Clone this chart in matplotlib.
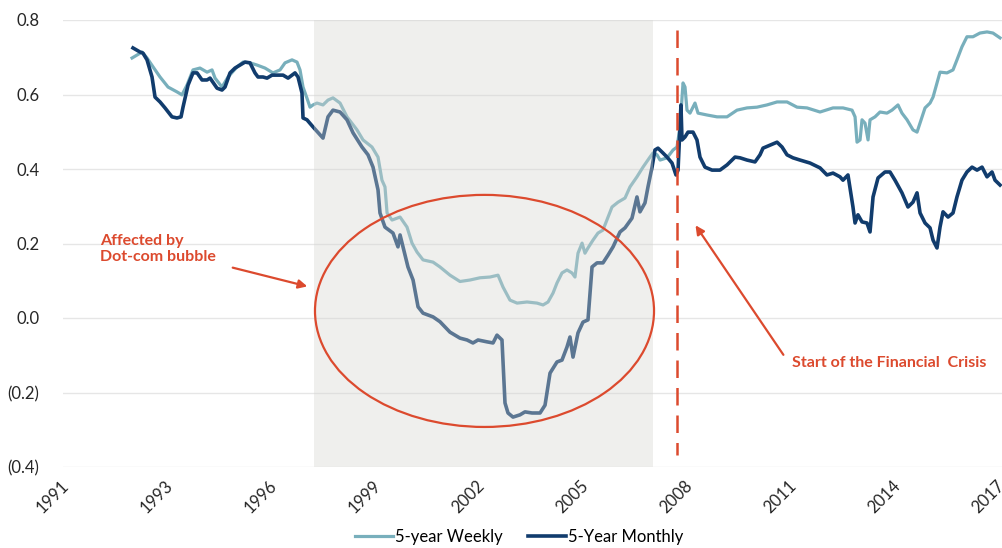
import numpy as np
import matplotlib.pyplot as plt
from matplotlib.patches import Rectangle, Ellipse
from matplotlib.ticker import FuncFormatter

plt.rcParams['font.family'] = ['Lato', 'DejaVu Sans']

# category axis: one position per labelled period
tick_labels = ['1991', '1993', '1996', '1999', '2002', '2005', '2008', '2011', '2014', '2017']

# 5-year monthly correlation (x in label positions)
monthly_x = [0.644, 0.712, 0.740, 0.779, 0.827, 0.856, 0.904, 0.952, 1.019, 1.067, 1.106, 1.125,
             1.173, 1.221, 1.260, 1.308, 1.356, 1.385, 1.452, 1.500, 1.529, 1.577, 1.625, 1.673,
             1.721, 1.769, 1.817, 1.846, 1.894, 1.933, 1.981, 2.029, 2.087, 2.135, 2.202, 2.231,
             2.269, 2.279, 2.317, 2.375, 2.471, 2.519, 2.567, 2.635, 2.702, 2.760, 2.846, 2.904,
             2.952, 3.000, 3.019, 3.067, 3.144, 3.192, 3.212, 3.240, 3.288, 3.337, 3.385, 3.433,
             3.529, 3.596, 3.692, 3.788, 3.856, 3.913, 3.962, 4.048, 4.106, 4.144, 4.192, 4.221,
             4.250, 4.298, 4.365, 4.413, 4.481, 4.558, 4.606, 4.654, 4.721, 4.769, 4.817, 4.846,
             4.875, 4.923, 4.971, 5.019, 5.058, 5.106, 5.163, 5.212, 5.260, 5.327, 5.375, 5.442,
             5.490, 5.519, 5.567, 5.596, 5.635, 5.663, 5.692, 5.740, 5.779, 5.827, 5.865, 5.885,
             5.913, 5.923, 5.952, 5.981, 6.029, 6.067, 6.096, 6.144, 6.212, 6.288, 6.356, 6.433,
             6.481, 6.548, 6.625, 6.673, 6.702, 6.769, 6.837, 6.885, 6.933, 6.990, 7.058, 7.154,
             7.250, 7.317, 7.375, 7.442, 7.471, 7.519, 7.567, 7.587, 7.615, 7.654, 7.702, 7.731,
             7.760, 7.808, 7.875, 7.923, 7.971, 8.038, 8.096, 8.144, 8.183, 8.212, 8.260, 8.308,
             8.337, 8.375, 8.404, 8.433, 8.481, 8.529, 8.567, 8.615, 8.663, 8.712, 8.760, 8.808,
             8.856, 8.904, 8.933, 8.981]
monthly_y = [0.725, 0.714, 0.711, 0.693, 0.647, 0.593, 0.580, 0.564, 0.540, 0.537, 0.540, 0.566,
             0.625, 0.658, 0.658, 0.639, 0.639, 0.644, 0.617, 0.612, 0.620, 0.658, 0.671, 0.679,
             0.687, 0.685, 0.658, 0.647, 0.647, 0.644, 0.652, 0.652, 0.652, 0.644, 0.658, 0.647,
             0.604, 0.537, 0.532, 0.513, 0.483, 0.540, 0.558, 0.553, 0.532, 0.497, 0.459, 0.438,
             0.405, 0.344, 0.282, 0.244, 0.228, 0.191, 0.223, 0.191, 0.137, 0.102, 0.030, 0.013,
             0.003, -0.010, -0.038, -0.054, -0.059, -0.067, -0.059, -0.064, -0.067, -0.046, -0.059, -0.228,
             -0.255, -0.266, -0.260, -0.252, -0.255, -0.255, -0.234, -0.148, -0.118, -0.113, -0.078, -0.051,
             -0.105, -0.040, -0.011, -0.005, 0.137, 0.148, 0.148, 0.169, 0.191, 0.231, 0.242, 0.268,
             0.325, 0.285, 0.309, 0.352, 0.405, 0.451, 0.456, 0.443, 0.432, 0.416, 0.384, 0.397,
             0.572, 0.478, 0.486, 0.499, 0.499, 0.478, 0.432, 0.405, 0.397, 0.397, 0.411, 0.432,
             0.430, 0.424, 0.419, 0.438, 0.456, 0.464, 0.472, 0.459, 0.438, 0.430, 0.424, 0.416,
             0.403, 0.384, 0.389, 0.379, 0.370, 0.384, 0.298, 0.255, 0.277, 0.258, 0.255, 0.231,
             0.325, 0.376, 0.392, 0.392, 0.370, 0.336, 0.298, 0.311, 0.336, 0.282, 0.255, 0.242,
             0.209, 0.188, 0.244, 0.285, 0.271, 0.282, 0.325, 0.370, 0.392, 0.405, 0.397, 0.405,
             0.379, 0.392, 0.370, 0.357]

# 5-year weekly correlation
weekly_x = [0.635, 0.683, 0.731, 0.779, 0.837, 0.904, 0.981, 1.067, 1.115, 1.163, 1.221, 1.288,
            1.356, 1.404, 1.433, 1.500, 1.558, 1.644, 1.702, 1.769, 1.837, 1.913, 1.990, 2.058,
            2.106, 2.173, 2.221, 2.250, 2.279, 2.317, 2.346, 2.375, 2.413, 2.471, 2.519, 2.567,
            2.635, 2.702, 2.798, 2.856, 2.942, 3.000, 3.038, 3.067, 3.087, 3.135, 3.212, 3.279,
            3.327, 3.375, 3.433, 3.529, 3.596, 3.692, 3.788, 3.885, 3.981, 4.077, 4.154, 4.202,
            4.269, 4.337, 4.433, 4.529, 4.587, 4.635, 4.683, 4.721, 4.769, 4.817, 4.865, 4.894,
            4.923, 4.962, 4.990, 5.019, 5.067, 5.115, 5.163, 5.212, 5.250, 5.308, 5.375, 5.423,
            5.490, 5.548, 5.615, 5.644, 5.683, 5.712, 5.779, 5.837, 5.875, 5.904, 5.933, 5.952,
            5.971, 6.000, 6.048, 6.077, 6.163, 6.260, 6.356, 6.452, 6.548, 6.644, 6.740, 6.837,
            6.933, 7.029, 7.125, 7.250, 7.375, 7.471, 7.558, 7.587, 7.606, 7.635, 7.654, 7.683,
            7.712, 7.731, 7.779, 7.827, 7.894, 7.942, 8.000, 8.038, 8.087, 8.144, 8.183, 8.231,
            8.260, 8.308, 8.337, 8.375, 8.404, 8.471, 8.529, 8.567, 8.615, 8.663, 8.721, 8.788,
            8.856, 8.913, 8.981]
weekly_y = [0.698, 0.706, 0.714, 0.698, 0.674, 0.647, 0.620, 0.607, 0.599, 0.625, 0.666, 0.671,
            0.660, 0.666, 0.644, 0.620, 0.647, 0.674, 0.687, 0.685, 0.679, 0.671, 0.658, 0.666,
            0.685, 0.693, 0.687, 0.666, 0.620, 0.590, 0.566, 0.572, 0.577, 0.572, 0.585, 0.591,
            0.577, 0.540, 0.505, 0.478, 0.459, 0.432, 0.370, 0.352, 0.282, 0.263, 0.271, 0.244,
            0.201, 0.177, 0.156, 0.150, 0.137, 0.115, 0.098, 0.102, 0.108, 0.110, 0.115, 0.083,
            0.048, 0.040, 0.043, 0.040, 0.035, 0.043, 0.067, 0.094, 0.121, 0.129, 0.121, 0.110,
            0.174, 0.201, 0.174, 0.188, 0.209, 0.228, 0.236, 0.271, 0.298, 0.311, 0.322, 0.352,
            0.379, 0.405, 0.432, 0.443, 0.438, 0.424, 0.430, 0.451, 0.459, 0.513, 0.631, 0.620,
            0.558, 0.550, 0.577, 0.550, 0.545, 0.540, 0.540, 0.558, 0.564, 0.566, 0.572, 0.580,
            0.580, 0.566, 0.564, 0.553, 0.564, 0.564, 0.558, 0.540, 0.472, 0.478, 0.532, 0.523,
            0.478, 0.532, 0.540, 0.553, 0.550, 0.558, 0.572, 0.550, 0.532, 0.505, 0.499, 0.540,
            0.564, 0.577, 0.593, 0.631, 0.660, 0.658, 0.666, 0.693, 0.728, 0.755, 0.755, 0.765,
            0.768, 0.765, 0.752]

RED = '#dc4a2e'
WEEKLY = '#78afbc'
MONTHLY = '#113c6d'

fig = plt.figure(figsize=(10.02, 5.48), dpi=100)
ax = fig.add_axes([63 / 1002, 1 - 467 / 548, (1002 - 63) / 1002, (467 - 20) / 548])

ax.plot(weekly_x, weekly_y, color=WEEKLY, lw=2.3, solid_joinstyle='round', zorder=2, label='5-year Weekly')
ax.plot(monthly_x, monthly_y, color=MONTHLY, lw=2.6, solid_joinstyle='round', zorder=2, label='5-Year Monthly')

# dot-com period, laid over the lines so they show through faded
ax.add_patch(Rectangle((2.385, -0.4), 5.644 - 2.385, 1.2, facecolor='#d6d6d1', alpha=0.38,
                       edgecolor='none', zorder=3))

ax.add_patch(Ellipse((4.024, 0.019), 3.26, 0.623, fill=False, edgecolor=RED, lw=1.6, zorder=5))
ax.plot([5.875, 5.875], [0.773, -0.368], color=RED, lw=1.8, dashes=(7, 4), zorder=5)

ax.annotate('', xy=(2.346, 0.083), xytext=(1.577, 0.137),
            arrowprops=dict(arrowstyle='-|>', color=RED, lw=1.6, mutation_scale=13), zorder=6)
ax.text(0.327, 0.185, 'Affected by\nDot-com bubble', color=RED, fontsize=11.5, fontweight='bold',
        ha='left', va='center', linespacing=1.15, zorder=6)

ax.annotate('', xy=(6.038, 0.255), xytext=(6.913, -0.105),
            arrowprops=dict(arrowstyle='-|>', color=RED, lw=1.6, mutation_scale=13), zorder=6)
ax.text(6.981, -0.121, 'Start of the Financial  Crisis', color=RED, fontsize=11.5, fontweight='bold',
        ha='left', va='center', zorder=6)

ax.set_xlim(-0.029, 9.0)
ax.set_ylim(-0.4, 0.8)
ax.set_yticks(np.arange(-0.4, 0.81, 0.2))
ax.yaxis.set_major_formatter(FuncFormatter(lambda v, p: '({:.1f})'.format(-v) if v < -1e-9 else '{:.1f}'.format(abs(v))))
ax.set_xticks(range(len(tick_labels)))
ax.set_xticklabels(tick_labels, rotation=45, ha='right', va='center', rotation_mode='anchor')
ax.tick_params(axis='both', length=0, labelsize=12, labelcolor='#262626')
ax.tick_params(axis='y', pad=17)
ax.tick_params(axis='x', pad=12)
ax.grid(axis='y', color='#e6e6e6', lw=1.0, zorder=0)
ax.set_axisbelow(True)
for s in ax.spines.values():
    s.set_visible(False)

fig.legend(*ax.get_legend_handles_labels(), loc='center', bbox_to_anchor=(0.518, 0.02), ncol=2,
           frameon=False, fontsize=12, handlelength=2.3, handletextpad=0.1, columnspacing=1.5)

fig.savefig('out.png', dpi=100)
